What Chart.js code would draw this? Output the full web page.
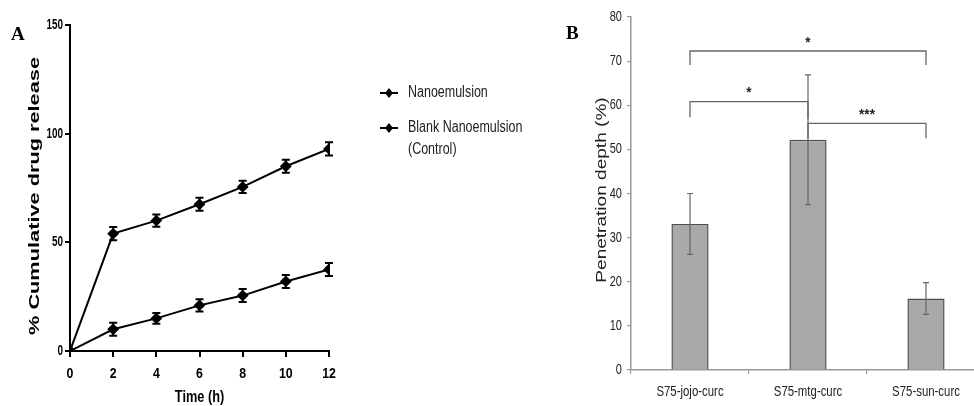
<!DOCTYPE html>
<html>
<head>
<meta charset="utf-8">
<script src="https://cdn.jsdelivr.net/npm/chart.js@4.4.0/dist/chart.umd.min.js"></script>
<style>
  html, body { margin: 0; padding: 0; background: #fff; overflow: hidden; width: 974px; height: 406px; }
  canvas { position: absolute; top: 0; }
  .panel { position: absolute; font: bold 19px "Liberation Serif", serif; color: #000; }
</style>
</head>
<body>
<canvas id="chartA" width="560" height="406" style="left:0"></canvas>
<canvas id="chartB" width="430" height="406" style="left:560px"></canvas>
<div class="panel" style="left:11px;top:23px">A</div>
<div class="panel" style="left:566px;top:22px">B</div>
<script>
// panel A - release profile
const timeHours = [0, 2, 4, 6, 8, 10, 12];
const nanoRelease = [0, 54, 60, 67.5, 75.5, 85, 93];
const nanoErr = [0, 3, 2.8, 3, 2.8, 3, 3];
const blankRelease = [0, 10, 15, 21, 25.5, 32, 37.5];
const blankErr = [0, 3, 2.5, 2.8, 3, 3, 3];
const seriesNames = [['Nanoemulsion'], ['Blank Nanoemulsion', '(Control)']];
const titlesA = { x: 'Time (h)', y: '% Cumulative drug release' };

// panel B - penetration depth
const formulations = ['S75-jojo-curc', 'S75-mtg-curc', 'S75-sun-curc'];
const depth = [33.1, 52.2, 16.2];
const depthErr = [6.9, 14.7, 3.6];
const sigPairs = [[0, 2], [0, 1], [1, 2]];
const sigTop = [72.3, 60.8, 55.9];
const sigEnds = [[69.1, 69.1], [57.3, 56.9], [52.5, 52.5]];
const sigLabels = ['*', '*', '***'];
const titleB = 'Penetration depth (%)';

const sans = '"Liberation Sans", Arial, sans-serif';

// the source figure is stretched, so text gets scaled along its run
function stretchText(ctx, text, x, y, o) {
  ctx.save();
  ctx.translate(x, y);
  if (o.rot) ctx.rotate(o.rot);
  ctx.scale(o.sx || 1, 1);
  ctx.font = o.font;
  ctx.fillStyle = o.color || '#000';
  ctx.textAlign = o.align || 'left';
  ctx.textBaseline = o.baseline || 'alphabetic';
  ctx.fillText(text, 0, 0);
  ctx.restore();
}

// tick labels drawn from the scales' own ticks, squeezed like the source
const tickLabels = {
  id: 'tickLabels',
  afterDraw(chart, args, opts) {
    const ctx = chart.ctx;
    const area = chart.chartArea;
    const xs = chart.scales.x, ys = chart.scales.y;
    xs.ticks.forEach((t, i) => {
      stretchText(ctx, String(t.label), xs.getPixelForTick(i), area.bottom + opts.x.offset,
        { font: opts.x.font, sx: opts.x.sx, color: opts.x.color, align: 'center', baseline: 'middle' });
    });
    ys.ticks.forEach((t, i) => {
      stretchText(ctx, String(t.label), area.left - opts.y.offset, ys.getPixelForTick(i),
        { font: opts.y.font, sx: opts.y.sx, color: opts.y.color, align: 'right', baseline: 'middle' });
    });
  }
};

// draws vertical error bars from dataset.errors
const errorBars = {
  id: 'errorBars',
  afterDatasetsDraw(chart, args, opts) {
    const ctx = chart.ctx;
    const yScale = chart.scales.y;
    chart.data.datasets.forEach((ds, i) => {
      if (!ds.errors) return;
      const meta = chart.getDatasetMeta(i);
      ctx.save();
      ctx.strokeStyle = opts.color;
      ctx.lineWidth = opts.width;
      meta.data.forEach((el, j) => {
        const e = ds.errors[j];
        if (!e) return;
        const v = typeof ds.data[j] === 'object' ? ds.data[j].y : ds.data[j];
        const top = yScale.getPixelForValue(v + e);
        const bot = yScale.getPixelForValue(v - e);
        const x = el.x;
        ctx.beginPath();
        ctx.moveTo(x, top); ctx.lineTo(x, bot);
        ctx.moveTo(x - opts.cap, top); ctx.lineTo(x + opts.cap, top);
        ctx.moveTo(x - opts.cap, bot); ctx.lineTo(x + opts.cap, bot);
        ctx.stroke();
      });
      ctx.restore();
    });
  }
};

// legend + axis titles for panel A
const decorA = {
  id: 'decorA',
  afterDraw(chart) {
    const ctx = chart.ctx;
    const area = chart.chartArea;
    ctx.save();
    let y = 93;
    chart.data.datasets.forEach((ds, i) => {
      const cx = 389;
      ctx.strokeStyle = '#000';
      ctx.lineWidth = 2;
      ctx.beginPath();
      ctx.moveTo(cx - 9, y); ctx.lineTo(cx + 9, y);
      ctx.stroke();
      ctx.fillStyle = '#000';
      ctx.beginPath();
      ctx.moveTo(cx, y - 5); ctx.lineTo(cx + 4, y); ctx.lineTo(cx, y + 5); ctx.lineTo(cx - 4, y);
      ctx.closePath();
      ctx.fill();
      seriesNames[i].forEach((t, k) => stretchText(ctx, t, 408, y + k * 22,
        { font: '16px ' + sans, sx: 0.78, color: '#222', baseline: 'middle' }));
      y += 35;
    });
    ctx.restore();
    stretchText(ctx, titlesA.x, (area.left + area.right) / 2, 397,
      { font: 'bold 17px ' + sans, sx: 0.75, align: 'center', baseline: 'middle' });
    stretchText(ctx, titlesA.y, 39, 196,
      { font: 'bold 15px ' + sans, sx: 1.45, rot: -Math.PI / 2, align: 'center' });
  }
};

const pts = (ys) => timeHours.map((t, i) => ({ x: t, y: ys[i] }));

new Chart(document.getElementById('chartA'), {
  type: 'line',
  data: {
    datasets: [
      {
        label: seriesNames[0].join(' '),
        data: pts(nanoRelease),
        errors: nanoErr,
        borderColor: '#000', backgroundColor: '#000',
        borderWidth: 2, pointStyle: 'rectRot', pointRadius: 4.5, tension: 0
      },
      {
        label: seriesNames[1].join(' '),
        data: pts(blankRelease),
        errors: blankErr,
        borderColor: '#000', backgroundColor: '#000',
        borderWidth: 2, pointStyle: 'rectRot', pointRadius: 4.5, tension: 0
      }
    ]
  },
  options: {
    responsive: false,
    animation: false,
    layout: { padding: { top: 25, right: 231, left: 0, bottom: 0 } },
    plugins: {
      legend: { display: false },
      tooltip: { enabled: false },
      errorBars: { color: '#000', width: 2, cap: 4 },
      tickLabels: {
        x: { font: 'bold 14px ' + sans, sx: 0.88, color: '#000', offset: 23 },
        y: { font: 'bold 15px ' + sans, sx: 0.66, color: '#000', offset: 7 }
      }
    },
    scales: {
      x: {
        type: 'linear', min: 0, max: 12,
        afterFit: (s) => { s.height = 55; },
        ticks: { stepSize: 2, display: false },
        grid: { drawOnChartArea: false, drawTicks: true, tickLength: 6, color: '#000', lineWidth: 2 },
        border: { color: '#000', width: 2 }
      },
      y: {
        min: 0, max: 150,
        afterFit: (s) => { s.width = 70; },
        ticks: { stepSize: 50, display: false },
        grid: { drawOnChartArea: false, drawTicks: true, tickLength: 5, color: '#000', lineWidth: 2 },
        border: { color: '#000', width: 2 }
      }
    }
  },
  plugins: [errorBars, tickLabels, decorA]
});

// significance brackets over the bars + axis title
const decorB = {
  id: 'decorB',
  afterDatasetsDraw(chart) {
    const ctx = chart.ctx;
    const xs = chart.scales.x, ys = chart.scales.y;
    ctx.save();
    ctx.strokeStyle = '#666';
    ctx.lineWidth = 1.3;
    sigPairs.forEach((p, i) => {
      const x1 = xs.getPixelForValue(p[0]);
      const x2 = xs.getPixelForValue(p[1]);
      const yt = ys.getPixelForValue(sigTop[i]);
      ctx.beginPath();
      ctx.moveTo(x1, ys.getPixelForValue(sigEnds[i][0]));
      ctx.lineTo(x1, yt); ctx.lineTo(x2, yt);
      ctx.lineTo(x2, ys.getPixelForValue(sigEnds[i][1]));
      ctx.stroke();
      stretchText(ctx, sigLabels[i], (x1 + x2) / 2, yt - 1,
        { font: 'bold 15px ' + sans, sx: 0.9, color: '#222', align: 'center', baseline: 'bottom' });
    });
    ctx.restore();
  },
  afterDraw(chart) {
    stretchText(chart.ctx, titleB, 46, 190,
      { font: '15px ' + sans, sx: 1.27, rot: -Math.PI / 2, align: 'center', color: '#222' });
  }
};

new Chart(document.getElementById('chartB'), {
  type: 'bar',
  data: {
    labels: formulations,
    datasets: [{
      label: 'Penetration depth',
      data: depth,
      errors: depthErr,
      backgroundColor: '#a9a9a9',
      borderColor: '#505050',
      borderWidth: 1.5,
      categoryPercentage: 1,
      barPercentage: 0.315
    }]
  },
  options: {
    responsive: false,
    animation: false,
    layout: { padding: { top: 17, right: 5, left: 0, bottom: 0 } },
    plugins: {
      legend: { display: false },
      tooltip: { enabled: false },
      errorBars: { color: '#666', width: 1.2, cap: 3 },
      tickLabels: {
        x: { font: '15px ' + sans, sx: 0.76, color: '#222', offset: 22 },
        y: { font: '14.5px ' + sans, sx: 0.76, color: '#222', offset: 9 }
      }
    },
    scales: {
      x: {
        afterFit: (s) => { s.height = 36; },
        ticks: { display: false },
        grid: { drawOnChartArea: false, drawTicks: true, tickLength: 4, color: '#999', lineWidth: 1.2 },
        border: { color: '#999', width: 1.5 }
      },
      y: {
        min: 0, max: 80,
        afterFit: (s) => { s.width = 71; },
        ticks: { stepSize: 10, display: false },
        grid: { drawOnChartArea: false, drawTicks: true, tickLength: 4, color: '#999', lineWidth: 1.2 },
        border: { color: '#999', width: 1.5 }
      }
    }
  },
  plugins: [errorBars, tickLabels, decorB]
});
</script>
</body>
</html>
